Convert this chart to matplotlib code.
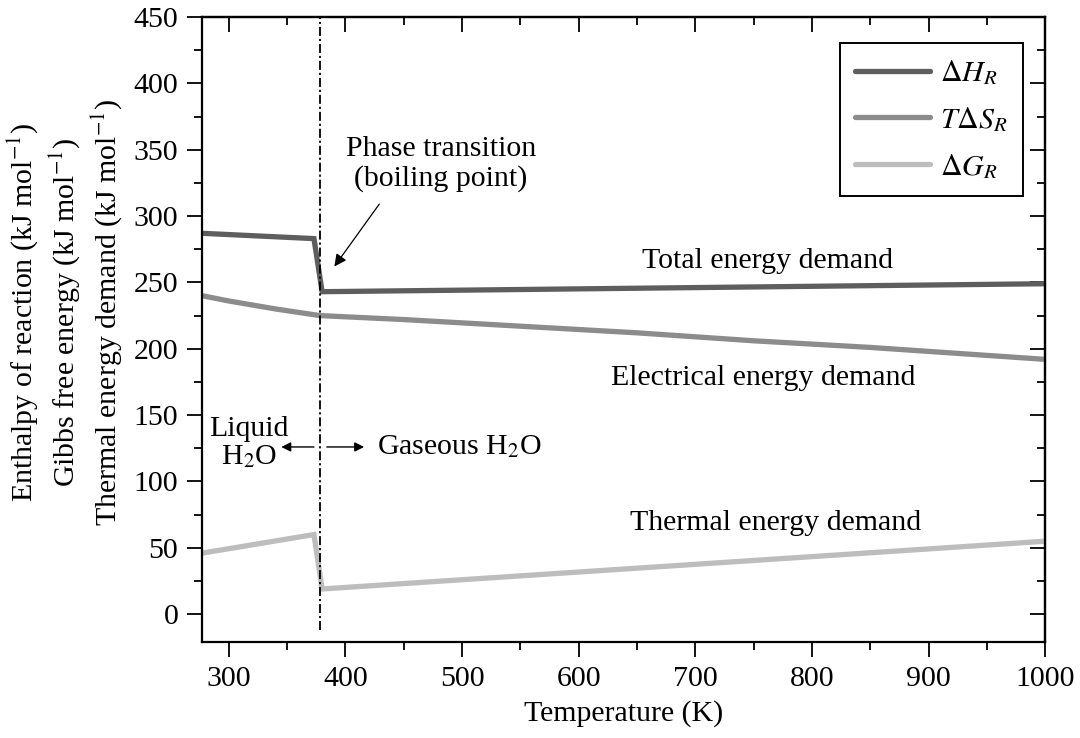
import numpy as np
import matplotlib
matplotlib.use("Agg")
import matplotlib.pyplot as plt
from matplotlib.ticker import MultipleLocator

plt.rcParams['font.family'] = ['Liberation Serif', 'DejaVu Serif']
plt.rcParams['mathtext.fontset'] = 'stix'

# temperatures (K) and energies (kJ/mol)
T_dH = [277, 373, 380, 1000]
dH = [287, 283, 243, 249]

T_TdS = [277, 300, 340, 378, 450, 550, 650, 750, 850, 1000]
TdS = [240, 236, 230, 225, 222, 217, 212, 206, 201, 192]

T_dG = [277, 373, 380, 1000]
dG = [46, 60, 19, 55]

T_boil = 378
series_names = [r'$\Delta H_R$', r'$T\Delta S_R$', r'$\Delta G_R$']

fs = 21.5
fig = plt.figure(figsize=(10.8, 7.38), dpi=100)
ax = fig.add_axes([0.187, 0.130, 0.781, 0.847])

ax.plot(T_dH, dH, color='#5e5e5e', lw=3.8, solid_capstyle='round',
        solid_joinstyle='miter', label=series_names[0])
ax.plot(T_TdS, TdS, color='#8c8c8c', lw=3.8, solid_capstyle='round',
        label=series_names[1])
ax.plot(T_dG, dG, color='#bdbdbd', lw=3.8, solid_capstyle='round',
        solid_joinstyle='miter', label=series_names[2])

# boiling point marker
ax.plot([T_boil, T_boil], [-12, 450], color='black', lw=1.3,
        dashes=(5, 1.6, 1.2, 1.6), zorder=5)

ax.set_xlim(277, 1000)
ax.set_ylim(-21, 450)
ax.xaxis.set_major_locator(MultipleLocator(100))
ax.xaxis.set_minor_locator(MultipleLocator(50))
ax.yaxis.set_major_locator(MultipleLocator(50))
ax.yaxis.set_minor_locator(MultipleLocator(25))
ax.tick_params(which='both', direction='out', width=1.3, labelsize=fs, pad=6)
ax.tick_params(which='major', length=11)
ax.tick_params(which='minor', length=6)
for s in ax.spines.values():
    s.set_linewidth(1.6)

# inward ticks on top and right
top = ax.secondary_xaxis('top')
top.xaxis.set_major_locator(MultipleLocator(100))
top.xaxis.set_minor_locator(MultipleLocator(50))
top.tick_params(which='both', direction='in', width=1.3, labeltop=False)
top.tick_params(which='major', length=11)
top.tick_params(which='minor', length=6)
top.spines['top'].set_linewidth(1.6)
right = ax.secondary_yaxis('right')
right.yaxis.set_major_locator(MultipleLocator(50))
right.yaxis.set_minor_locator(MultipleLocator(25))
right.tick_params(which='both', direction='in', width=1.3, labelright=False)
right.tick_params(which='major', length=11)
right.tick_params(which='minor', length=6)
right.spines['right'].set_linewidth(1.6)

ax.set_xlabel('Temperature (K)', fontsize=fs, labelpad=6)
ax.set_ylabel('Enthalpy of reaction (kJ mol$^{-1}$)\n'
              'Gibbs free energy (kJ mol$^{-1}$)\n'
              'Thermal energy demand (kJ mol$^{-1}$)',
              fontsize=fs, linespacing=1.25, ha='center', va='center',
              multialignment='center')
ax.yaxis.set_label_coords(-0.163, 0.528)

ax.text(482, 339, 'Phase transition\n(boiling point)', fontsize=fs,
        ha='center', va='center', linespacing=1.15)
ax.annotate('', xy=(390.5, 262), xytext=(429, 309),
            arrowprops=dict(arrowstyle='-|>', color='black', lw=0.9,
                            mutation_scale=18, shrinkA=0, shrinkB=0))

ax.text(762, 266, 'Total energy demand', fontsize=fs, ha='center', va='center')
ax.text(758, 178, 'Electrical energy demand', fontsize=fs, ha='center', va='center')
ax.text(769, 69, 'Thermal energy demand', fontsize=fs, ha='center', va='center')

ax.text(317, 129, 'Liquid\nH$_2$O', fontsize=fs, ha='center', va='center',
        linespacing=1.05)
ax.text(427, 126, 'Gaseous H$_2$O', fontsize=fs, ha='left', va='center')
ax.annotate('', xy=(345, 126), xytext=(373, 126),
            arrowprops=dict(arrowstyle='-|>', color='black', lw=1.0,
                            mutation_scale=14, shrinkA=0, shrinkB=0))
ax.annotate('', xy=(416, 126), xytext=(384, 126),
            arrowprops=dict(arrowstyle='-|>', color='black', lw=1.0,
                            mutation_scale=14, shrinkA=0, shrinkB=0))

leg = ax.legend(loc='upper right', bbox_to_anchor=(0.973, 0.958),
                borderaxespad=0, fontsize=fs, handlelength=2.5,
                labelspacing=0.6, handletextpad=0.35, fancybox=False,
                framealpha=1, edgecolor='black', borderpad=0.5)
leg.get_frame().set_linewidth(1.4)

fig.savefig('out.png', dpi=100)
